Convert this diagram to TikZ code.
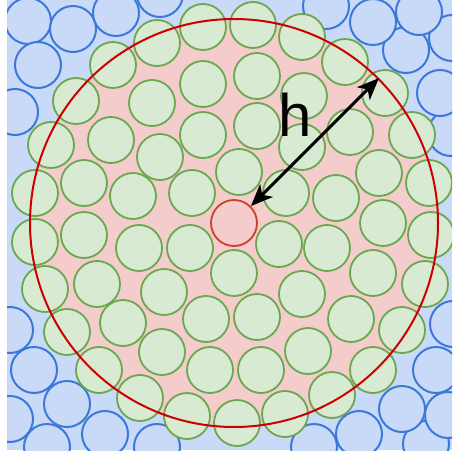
\documentclass[tikz,border=0pt]{standalone}
\usepackage{fontspec}
\newfontfamily\labelfont{Liberation Sans}
\usetikzlibrary{arrows.meta}
\definecolor{BgBlue}{HTML}{C9DAF8}
\definecolor{RimBlue}{HTML}{3C78D8}
\definecolor{BallGreen}{HTML}{D9EAD3}
\definecolor{RimGreen}{HTML}{6AA84F}
\definecolor{ZonePink}{HTML}{F4CCCC}
\definecolor{ZoneRed}{HTML}{CC0000}
\definecolor{CoreRed}{HTML}{CC4125}
\tikzset{
  >={Stealth[length=22pt,width=18pt,inset=6pt]},
  % Particelle
  ball blue/.style={draw=RimBlue,fill=BgBlue,line width=2pt},
  ball green/.style={draw=RimGreen,fill=BallGreen,line width=1.8pt},
  % Zona di interazione e particella centrale
  zone/.style={circle,draw=ZoneRed,line width=2pt,minimum size=408pt,inner sep=0pt},
  core/.style={circle,draw=CoreRed,fill=ZonePink,line width=1.8pt,minimum size=46pt,inner sep=0pt},
  connect arrow/.style={<->,line width=3pt,black}
}

\begin{document}
\begin{tikzpicture}[x=1pt,y=-1pt]
  \useasboundingbox (0,0) rectangle (452,454);
  \fill[white] (0,0) rectangle (452,454);
  \begin{scope}
    \clip (7,0) rectangle (452,450);
    \fill[BgBlue] (7,0) rectangle (452,450);
    \foreach \x/\y in {28/21,73/29,116/13,160/-6,38/65,15/112,10/330,34/370,10/419,67/404,
        105/434,47/447,157/447,314/447,359/434,426/444,402/409,448/415,436/370,453/324,
        451/133,440/93,452/38,406/50,373/22,419/12,326/6}
      \draw[ball blue] (\x,\y) circle (23pt);
    \fill[ZonePink] (234,223) circle (204pt);
    \foreach \x/\y in {203/27,253/25,302/37,157/43,345/62,113/65,385/93,76/101,152/103,203/84,
        257/76,304/96,51/145,111/140,160/157,203/135,257/126,350/132,302/147,412/135,
        35/193,84/183,133/196,192/193,239/172,286/193,336/198,379/173,429/183,
        35/242,84/235,139/248,190/248,279/244,327/248,383/223,431/235,
        45/289,97/284,164/292,234/273,302/294,373/273,425/284,
        67/332,123/323,206/319,257/317,351/319,402/330,162/352,99/370,210/370,261/370,
        308/351,373/370,140/398,187/416,237/423,285/414,332/395}
      \draw[ball green] (\x,\y) circle (23pt);
  \end{scope}
  \node[zone] (range) at (234,223) {};
  \node[core] (centre) at (234,223) {};
  \draw[connect arrow] (centre.45) -- (range.45);
  \node[font=\labelfont\fontsize{60}{60}\selectfont,anchor=base,inner sep=0pt] (hlabel) at (295,137) {h};
\end{tikzpicture}
\end{document}
